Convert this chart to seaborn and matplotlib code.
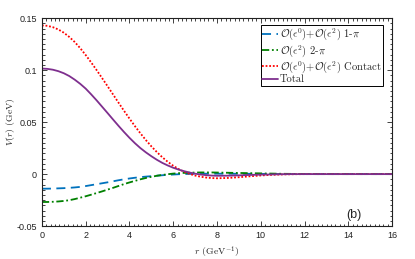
import numpy as np
import pandas as pd
import matplotlib
matplotlib.use("Agg")
import matplotlib.pyplot as plt
import seaborn as sns
from matplotlib.ticker import MultipleLocator

# r grid (GeV^-1): quarter steps up to 8, half steps after
r = [0.0, 0.25, 0.5, 0.75, 1.0, 1.25, 1.5, 1.75, 2.0, 2.25, 2.5, 2.75,
     3.0, 3.25, 3.5, 3.75, 4.0, 4.25, 4.5, 4.75, 5.0, 5.25, 5.5, 5.75,
     6.0, 6.25, 6.5, 6.75, 7.0, 7.25, 7.5, 7.75, 8.0,
     8.5, 9.0, 9.5, 10.0, 10.5, 11.0, 11.5, 12.0, 12.5, 13.0, 13.5, 14.0,
     14.5, 15.0, 15.5, 16.0]

# V(r) in GeV
v_one_pi = [-0.0140, -0.0140, -0.0139, -0.0137, -0.0135, -0.0132, -0.0128,
            -0.0123, -0.0115, -0.0106, -0.0097, -0.0088, -0.0079, -0.0069,
            -0.0059, -0.0050, -0.0042, -0.0035, -0.0029, -0.0024, -0.0020,
            -0.0015, -0.0011, -0.0007, -0.0004, -0.0001, 0.0001, 0.0002,
            0.0003, 0.0004, 0.0004, 0.0004, 0.0004,
            0.0004, 0.0003, 0.0003, 0.0002, 0.0001, 0.0001, 0.0, 0.0, 0.0,
            0.0, 0.0, 0.0, 0.0, 0.0, 0.0, 0.0]

v_two_pi = [-0.0268, -0.0268, -0.0266, -0.0263, -0.0258, -0.0251, -0.0240,
            -0.0227, -0.0213, -0.0198, -0.0182, -0.0166, -0.0149, -0.0132,
            -0.0114, -0.0096, -0.0080, -0.0065, -0.0050, -0.0037, -0.0026,
            -0.0016, -0.0008, -0.0001, 0.0005, 0.0009, 0.0012, 0.0014,
            0.0015, 0.0016, 0.0016, 0.0016, 0.0015,
            0.0013, 0.0011, 0.0009, 0.0007, 0.0005, 0.0003, 0.0002, 0.0001,
            0.0, 0.0, 0.0, 0.0, 0.0, 0.0, 0.0, 0.0]

v_contact = [0.1430, 0.1426, 0.1413, 0.1391, 0.1360, 0.1319, 0.1270, 0.1211,
             0.1145, 0.1074, 0.1000, 0.0923, 0.0845, 0.0766, 0.0687, 0.0609,
             0.0534, 0.0461, 0.0392, 0.0327, 0.0267, 0.0212, 0.0162, 0.0118,
             0.0080, 0.0048, 0.0022, 0.0002, -0.0014, -0.0025, -0.0033,
             -0.0038, -0.0040,
             -0.0037, -0.0030, -0.0021, -0.0013, -0.0007, -0.0003, -0.0001,
             0.0, 0.0, 0.0, 0.0, 0.0, 0.0, 0.0, 0.0, 0.0]

v_total = [0.1015, 0.1012, 0.1004, 0.0990, 0.0970, 0.0943, 0.0908, 0.0868,
           0.0822, 0.0767, 0.0709, 0.0648, 0.0587, 0.0525, 0.0464, 0.0405,
           0.0349, 0.0297, 0.0250, 0.0209, 0.0172, 0.0138, 0.0108, 0.0083,
           0.0061, 0.0043, 0.0028, 0.0015, 0.0004, -0.0004, -0.0010,
           -0.0014, -0.0016,
           -0.0015, -0.0012, -0.0008, -0.0005, -0.0003, -0.0001, 0.0, 0.0,
           0.0, 0.0, 0.0, 0.0, 0.0, 0.0, 0.0, 0.0]

labels = [
    r"$\mathcal{O}(\epsilon^0)$+$\mathcal{O}(\epsilon^2)$ 1-$\pi$",
    r"$\mathcal{O}(\epsilon^2)$ 2-$\pi$",
    r"$\mathcal{O}(\epsilon^0)$+$\mathcal{O}(\epsilon^2)$ Contact",
    "Total",
]

df = pd.DataFrame({"r": r, "one_pi": v_one_pi, "two_pi": v_two_pi,
                   "contact": v_contact, "total": v_total})

sns.set_theme(style="ticks")
plt.rcParams["mathtext.fontset"] = "cm"
plt.rcParams["font.family"] = ["Liberation Sans", "DejaVu Sans"]

fig = plt.figure(figsize=(4.15, 2.59), dpi=100)
ax = fig.add_axes([0.101, 0.127, 0.844, 0.803])

styles = [
    ("one_pi", "#0072BD", (0, (5, 3))),
    ("two_pi", "#008000", (0, (4, 1.5, 1, 1.5))),
    ("contact", "#FF0000", (0, (1, 1))),
    ("total", "#7E2F8E", "-"),
]
for (col, color, ls), lab in zip(styles, labels):
    sns.lineplot(data=df, x="r", y=col, ax=ax, color=color, linestyle=ls,
                 linewidth=1.3, label=lab)

ax.set_xlim(0, 16)
ax.set_ylim(-0.05, 0.15)
ax.xaxis.set_major_locator(MultipleLocator(2))
ax.xaxis.set_minor_locator(MultipleLocator(0.2))
ax.yaxis.set_minor_locator(MultipleLocator(0.005))
ax.set_yticks([-0.05, 0, 0.05, 0.1, 0.15])
ax.set_yticklabels(["-0.05", "0", "0.05", "0.1", "0.15"])
ax.tick_params(which="both", direction="in", top=True, right=True,
               labelsize=6.5, width=0.6, colors="#222222")
ax.tick_params(which="major", length=3.5)
ax.tick_params(which="minor", length=1.8)
for s in ax.spines.values():
    s.set_linewidth(0.8)
    s.set_color("#222222")

ax.set_xlabel(r"$r$ (GeV$^{-1}$)", family="cmr10", fontsize=7, labelpad=3)
ax.set_ylabel(r"$V(r)$ (GeV)", family="cmr10", fontsize=7, labelpad=0)

leg = ax.legend(loc="upper right", bbox_to_anchor=(0.974, 0.966),
                borderaxespad=0, fancybox=False, framealpha=1,
                edgecolor="black", prop={"family": "cmr10", "size": 7.6},
                handlelength=1.5, handletextpad=0.2, borderpad=0.12,
                labelspacing=0.02)
leg.get_frame().set_linewidth(0.7)

ax.text(0.89, 0.053, "(b)", transform=ax.transAxes, fontsize=9,
        ha="center", va="center")

fig.savefig("out.png", dpi=100)
